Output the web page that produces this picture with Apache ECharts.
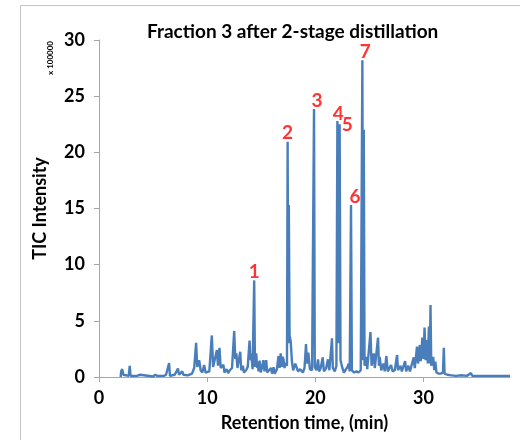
<!DOCTYPE html>
<html>
<head>
<meta charset="utf-8">
<script src="https://cdn.jsdelivr.net/npm/echarts@6/dist/echarts.min.js"></script>
<style>
  html, body { margin: 0; padding: 0; background: #fff; }
  #chart { width: 520px; height: 440px; }
</style>
</head>
<body>
<div id="chart"></div>
<script>
// retention time (min) and TIC intensity (x 100000)
const rt = [
  2.00, 2.05, 2.15, 2.25, 2.40, 2.75, 2.84, 2.92, 3.50, 3.80, 3.90, 5.00, 5.20, 5.40, 6.00, 6.20, 6.30, 6.48, 6.56, 7.00,
  7.30, 7.40, 7.70, 7.80, 8.20, 8.60, 8.80, 8.98, 9.08, 9.26, 9.40, 9.55, 9.72, 9.85, 10.00, 10.20, 10.43, 10.55, 10.70, 10.90,
  11.00, 11.14, 11.25, 11.50, 11.60, 11.80, 11.95, 12.10, 12.30, 12.50, 12.60, 12.70, 12.80, 12.90, 13.06, 13.15, 13.30, 13.40, 13.60, 13.75,
  13.92, 14.00, 14.07, 14.20, 14.35, 14.42, 14.54, 14.62, 14.66, 14.75, 14.85, 14.95, 15.06, 15.20, 15.30, 15.46, 15.55, 15.70, 15.90, 16.00,
  16.14, 16.25, 16.45, 16.60, 16.70, 16.80, 16.90, 16.97, 17.06, 17.15, 17.28, 17.38, 17.44, 17.50, 17.55, 17.62, 17.72, 17.84, 17.95, 18.15,
  18.30, 18.40, 18.60, 18.70, 18.85, 19.00, 19.14, 19.22, 19.35, 19.50, 19.70, 19.88, 19.95, 20.10, 20.25, 20.35, 20.50, 20.68, 20.80, 21.00,
  21.17, 21.30, 21.40, 21.54, 21.62, 21.80, 21.95, 22.04, 22.12, 22.25, 22.33, 22.50, 22.65, 22.80, 22.99, 23.08, 23.18, 23.30, 23.38, 23.60,
  23.80, 24.00, 24.20, 24.35, 24.42, 24.48, 24.55, 24.70, 24.80, 24.95, 25.10, 25.20, 25.40, 25.50, 25.65, 25.80, 25.88, 25.95, 26.10, 26.30,
  26.42, 26.57, 26.70, 26.85, 27.00, 27.15, 27.35, 27.56, 27.65, 27.87, 28.00, 28.15, 28.30, 28.40, 28.60, 28.75, 28.90, 29.10, 29.20, 29.40,
  29.50, 29.66, 29.75, 29.90, 30.00, 30.10, 30.20, 30.30, 30.40, 30.50, 30.58, 30.65, 30.72, 30.90, 31.00, 31.10, 31.20, 31.40, 31.60, 31.80,
  31.88, 31.95, 32.20, 32.60, 33.00, 33.50, 34.00, 34.40, 34.50, 35.50, 36.50, 38.00
];
const tic = [
  0.0, 0.5, 0.7, 0.2, 0.1, 0.1, 1.0, 0.1, 0.1, 0.2, 0.1, 0.05, 0.2, 0.1, 0.1, 0.2, 0.1, 1.25, 0.1, 0.2,
  0.75, 0.2, 0.5, 0.2, 0.15, 0.3, 0.8, 3.05, 0.9, 1.5, 0.6, 0.4, 1.07, 0.4, 0.3, 0.5, 3.7, 0.9, 0.8, 2.4,
  1.0, 2.6, 0.8, 1.1, 0.4, 0.7, 0.35, 0.6, 0.8, 4.1, 1.6, 2.1, 0.8, 0.7, 2.25, 0.6, 1.0, 0.4, 0.6, 0.9,
  3.25, 1.5, 2.1, 0.7, 8.6, 0.9, 2.1, 0.8, 1.36, 0.5, 1.45, 0.4, 0.8, 1.5, 0.5, 1.5, 0.4, 0.3, 0.8, 0.3,
  0.86, 0.3, 0.7, 1.87, 0.8, 2.1, 0.9, 1.8, 1.57, 0.8, 1.27, 1.0, 20.95, 3.0, 15.3, 3.7, 3.2, 1.36, 0.6, 1.2,
  1.07, 0.5, 0.7, 0.8, 0.4, 0.8, 2.94, 1.2, 2.16, 0.7, 0.6, 23.85, 0.9, 0.6, 1.57, 0.5, 0.8, 1.75, 0.5, 0.77,
  1.57, 0.6, 0.5, 3.44, 0.8, 0.5, 1.0, 22.8, 3.0, 22.5, 1.5, 0.8, 0.4, 0.5, 0.92, 1.2, 0.5, 15.3, 0.6, 0.4,
  0.5, 0.4, 0.6, 28.2, 1.5, 22.0, 1.0, 1.8, 0.7, 0.8, 4.0, 1.0, 2.1, 0.8, 0.7, 3.5, 1.0, 1.8, 0.6, 1.2,
  0.5, 1.87, 0.5, 0.6, 1.07, 0.5, 0.6, 1.96, 0.6, 1.0, 0.5, 0.6, 1.42, 0.5, 1.0, 0.5, 0.6, 1.75, 0.8, 2.7,
  1.2, 2.85, 1.4, 3.5, 1.6, 4.4, 1.5, 3.3, 1.2, 4.5, 1.2, 6.4, 1.0, 1.8, 0.6, 1.36, 0.4, 0.3, 0.3, 0.4,
  2.6, 0.3, 0.2, 0.15, 0.1, 0.15, 0.1, 0.35, 0.1, 0.1, 0.1, 0.1
];

// numbered peaks
const peakNames = ['1', '2', '3', '4', '5', '6', '7'];
const peakRt = [14.35, 17.44, 19.88, 22.04, 22.25, 23.30, 24.35];
const peakTic = [8.6, 20.95, 23.85, 22.8, 22.5, 15.3, 28.2];

const xTicks = [0, 10, 20, 30];

// label nudges so the numbers sit where they are in the figure
const nudge = [[0, 1], [0, 1], [3, 1], [1, 2], [0, 0], [4, 1], [3, 1]];

const chart = echarts.init(document.getElementById('chart'));
const font = 'Lato, "Open Sans", sans-serif';
const axisGray = '#a6a6a6';

const peakData = peakNames.map((n, i) => ({
  value: [peakRt[i], peakTic[i]],
  name: n,
  label: i === 4
    ? { position: 'right', distance: 2, offset: [0, 1] }
    : { position: 'top', distance: 0, offset: nudge[i] }
}));

chart.setOption({
  animation: false,
  title: {
    text: 'Fraction 3 after 2-stage distillation',
    left: 142,
    top: 17,
    textStyle: { fontFamily: font, fontSize: 19, fontWeight: 'bold', color: '#000' }
  },
  grid: { left: 99, right: 10, top: 40, bottom: 63 },
  xAxis: {
    type: 'value',
    min: 0,
    max: 38,
    interval: 10,
    name: 'Retention time, (min)',
    nameLocation: 'middle',
    nameGap: 37,
    nameTextStyle: { fontFamily: font, fontSize: 18, fontWeight: 'bold', color: '#000' },
    axisLine: { lineStyle: { color: axisGray } },
    axisTick: { show: true, length: 5, customValues: xTicks, lineStyle: { color: axisGray } },
    axisLabel: { customValues: xTicks, fontFamily: font, fontSize: 18, fontWeight: 'bold', color: '#000', margin: 12 },
    splitLine: { show: false }
  },
  yAxis: {
    type: 'value',
    min: 0,
    max: 30,
    interval: 5,
    name: 'TIC Intensity',
    nameLocation: 'middle',
    nameGap: 50,
    nameTextStyle: { fontFamily: font, fontSize: 18, fontWeight: 'bold', color: '#000' },
    axisLine: { show: true, lineStyle: { color: axisGray } },
    axisTick: { show: true, length: 5, lineStyle: { color: axisGray } },
    axisLabel: { fontFamily: font, fontSize: 18, fontWeight: 'bold', color: '#000', margin: 14 },
    splitLine: { show: false }
  },
  graphic: [
    {
      type: 'rect',
      shape: { x: 20.5, y: 5.5, width: 520, height: 460 },
      style: { fill: 'none', stroke: '#c4c4c4', lineWidth: 1 },
      silent: true
    },
    {
      type: 'text',
      x: 50,
      y: 58,
      rotation: Math.PI / 2,
      style: {
        text: 'x 100000',
        fontFamily: font,
        fontSize: 8,
        fontWeight: 'bold',
        fill: '#000',
        align: 'center',
        verticalAlign: 'middle'
      }
    }
  ],
  series: [
    {
      type: 'line',
      data: rt.map((t, i) => [t, tic[i]]),
      showSymbol: false,
      lineStyle: { color: '#4a7ebb', width: 2.4 },
      z: 2
    },
    {
      type: 'scatter',
      data: peakData,
      symbolSize: 0,
      label: {
        show: true,
        formatter: '{b}',
        fontFamily: font,
        fontSize: 19,
        fontWeight: 'bold',
        color: '#ff0000'
      },
      z: 3
    }
  ]
});
</script>
</body>
</html>
